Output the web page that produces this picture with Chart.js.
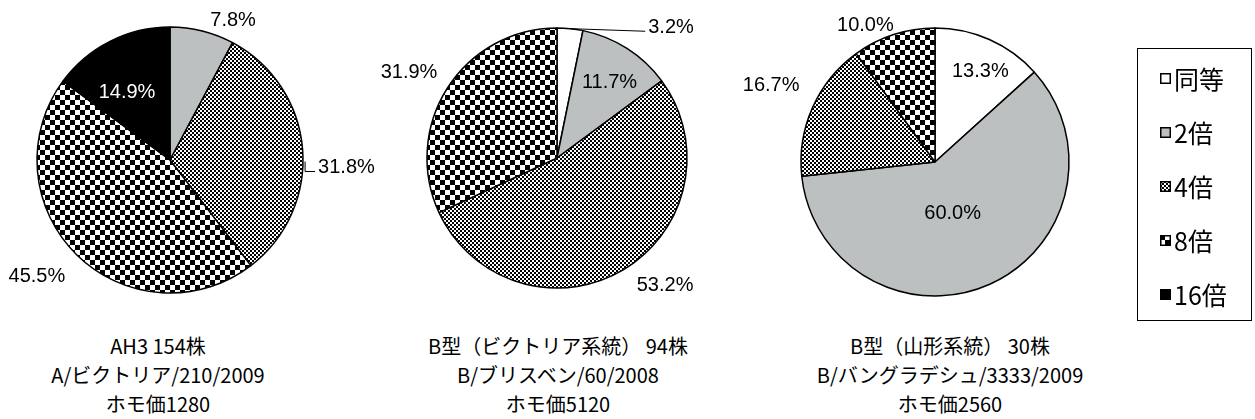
<!DOCTYPE html>
<html>
<head>
<meta charset="utf-8">
<script src="https://cdn.jsdelivr.net/npm/chart.js@4"></script>
<style>
  body { margin: 0; background: #fff; width: 1255px; height: 419px; overflow: hidden; position: relative; }
  canvas.pie { position: absolute; top: 0; }
  .cap { position: absolute; width: 400px; text-align: center; top: 331px; line-height: 31px;
         font: 20px "Noto Sans CJK JP", sans-serif; color: #000; white-space: nowrap; }
  #legend { position: absolute; left: 1137px; top: 48px; width: 115px; height: 273px; border: 1px solid #000; box-sizing: border-box;
            font: 25px "Noto Sans CJK JP", sans-serif; }
  .item { position: absolute; left: 22px; height: 30px; line-height: 30px; display: flex; align-items: center; }
  .item canvas { margin-right: 3px; }
</style>
</head>
<body>
<canvas id="pie1" class="pie" width="400" height="320" style="left:0"></canvas>
<canvas id="pie2" class="pie" width="345" height="320" style="left:370px"></canvas>
<canvas id="pie3" class="pie" width="410" height="320" style="left:720px"></canvas>
<div class="cap" id="cap1" style="left:-42px"></div>
<div class="cap" id="cap2" style="left:358px"></div>
<div class="cap" id="cap3" style="left:750px"></div>
<div id="legend"></div>
<script>
// data
const categories = ["同等", "2倍", "4倍", "8倍", "16倍"];
const ah3Values = [0, 7.8, 31.8, 45.5, 14.9];
const victoriaValues = [3.2, 11.7, 53.2, 31.9, 0];
const yamagataValues = [13.3, 60.0, 16.7, 10.0, 0];
const ah3Caption = ["AH3 154株", "A/ビクトリア/210/2009", "ホモ価1280"];
const victoriaCaption = ["B型（ビクトリア系統） 94株", "B/ブリスベン/60/2008", "ホモ価5120"];
const yamagataCaption = ["B型（山形系統） 30株", "B/バングラデシュ/3333/2009", "ホモ価2560"];

function checkerCanvas(period) {
  const c = document.createElement("canvas");
  c.width = period; c.height = period;
  const g = c.getContext("2d");
  const h = period / 2;
  g.fillStyle = "#fff"; g.fillRect(0, 0, period, period);
  g.fillStyle = "#000";
  g.fillRect(0, 0, h, h);
  g.fillRect(h, h, h, h);
  return c;
}
const ctx0 = document.createElement("canvas").getContext("2d");
const fills = ["#ffffff", "#bcc0c1",
  ctx0.createPattern(checkerCanvas(4), "repeat"),
  ctx0.createPattern(checkerCanvas(10), "repeat"),
  "#000000"];

// label placement: radial factor + nudge
const place1 = [null, {f:1.15, dx:26, dy:9}, {f:1.15, dx:24, dy:20, leader:"elbow"}, {f:1.15, dx:-26, dy:7}, {f:0.6, dx:-7, dy:4, color:"#fff"}];
const place2 = [{f:1.15, dx:99, dy:18, leader:"line"}, {f:0.65, dx:7, dy:-4}, {f:1.15, dx:32, dy:-1}, {f:1.15, dx:-22, dy:-5}, null];
const place3 = [{f:0.65, dx:10, dy:-11}, {f:0.45, dx:-7, dy:-4}, {f:1.15, dx:-23, dy:-14}, {f:1.15, dx:-22, dy:10}, null];

const pctLabels = {
  id: "pctLabels",
  afterDatasetsDraw(chart, args, opts) {
    const ctx = chart.ctx;
    const meta = chart.getDatasetMeta(0);
    const data = chart.data.datasets[0].data;
    ctx.save();
    ctx.font = '20px "Liberation Sans", Arial, sans-serif';
    ctx.textAlign = "center";
    ctx.textBaseline = "middle";
    meta.data.forEach((arc, i) => {
      const p = opts.place[i];
      if (!data[i] || !p) return;
      const mid = (arc.startAngle + arc.endAngle) / 2;
      const r = arc.outerRadius * p.f;
      const x = arc.x + Math.cos(mid) * r + p.dx;
      const y = arc.y + Math.sin(mid) * r + p.dy;
      const txt = data[i].toFixed(1) + "%";
      ctx.fillStyle = p.color || "#000";
      ctx.fillText(txt, x, y);
      const lx = x - ctx.measureText(txt).width / 2 - 3;
      ctx.strokeStyle = "#000";
      ctx.lineWidth = 1;
      if (p.leader === "elbow") {
        ctx.beginPath();
        ctx.moveTo(lx, y + 4); ctx.lineTo(lx - 10, y + 4); ctx.lineTo(lx - 10, y - 6);
        ctx.stroke();
      } else if (p.leader === "line") {
        ctx.beginPath();
        ctx.moveTo(arc.x + Math.cos(mid) * arc.outerRadius, arc.y + Math.sin(mid) * arc.outerRadius);
        ctx.lineTo(lx, y + 4);
        ctx.stroke();
      }
    });
    ctx.restore();
  }
};

function makePie(id, values, radius, padding, place) {
  return new Chart(id, {
    type: "pie",
    data: {
      labels: categories,
      datasets: [{
        data: values,
        backgroundColor: fills,
        borderColor: "#000",
        borderWidth: 1.5
      }]
    },
    options: {
      responsive: false,
      animation: false,
      radius: radius,
      layout: { padding: padding },
      plugins: {
        legend: { display: false },
        tooltip: { enabled: false },
        pctLabels: { place: place }
      }
    },
    plugins: [pctLabels]
  });
}

makePie("pie1", ah3Values, 133, {left: 37, right: 97, top: 27, bottom: 27}, place1);
makePie("pie2", victoriaValues, 130, {left: 57, right: 28, top: 28, bottom: 32}, place2);
makePie("pie3", yamagataValues, 134, {left: 81, right: 61, top: 28, bottom: 24}, place3);

document.getElementById("cap1").innerHTML = ah3Caption.join("<br>");
document.getElementById("cap2").innerHTML = victoriaCaption.join("<br>");
document.getElementById("cap3").innerHTML = yamagataCaption.join("<br>");

// legend
const legend = document.getElementById("legend");
categories.forEach((name, i) => {
  const item = document.createElement("div");
  item.className = "item";
  item.style.top = (14 + 54 * i) + "px";
  const m = document.createElement("canvas");
  m.width = 11; m.height = 11;
  const g = m.getContext("2d");
  const f = fills[i];
  if (typeof f === "string") g.fillStyle = f;
  else g.fillStyle = g.createPattern(checkerCanvas(i === 2 ? 4 : 10), "repeat");
  g.fillRect(0, 0, 11, 11);
  g.strokeStyle = "#000"; g.lineWidth = 1.5;
  g.strokeRect(0.75, 0.75, 9.5, 9.5);
  item.appendChild(m);
  const t = document.createElement("span");
  t.textContent = name;
  item.appendChild(t);
  legend.appendChild(item);
});
</script>
</body>
</html>
